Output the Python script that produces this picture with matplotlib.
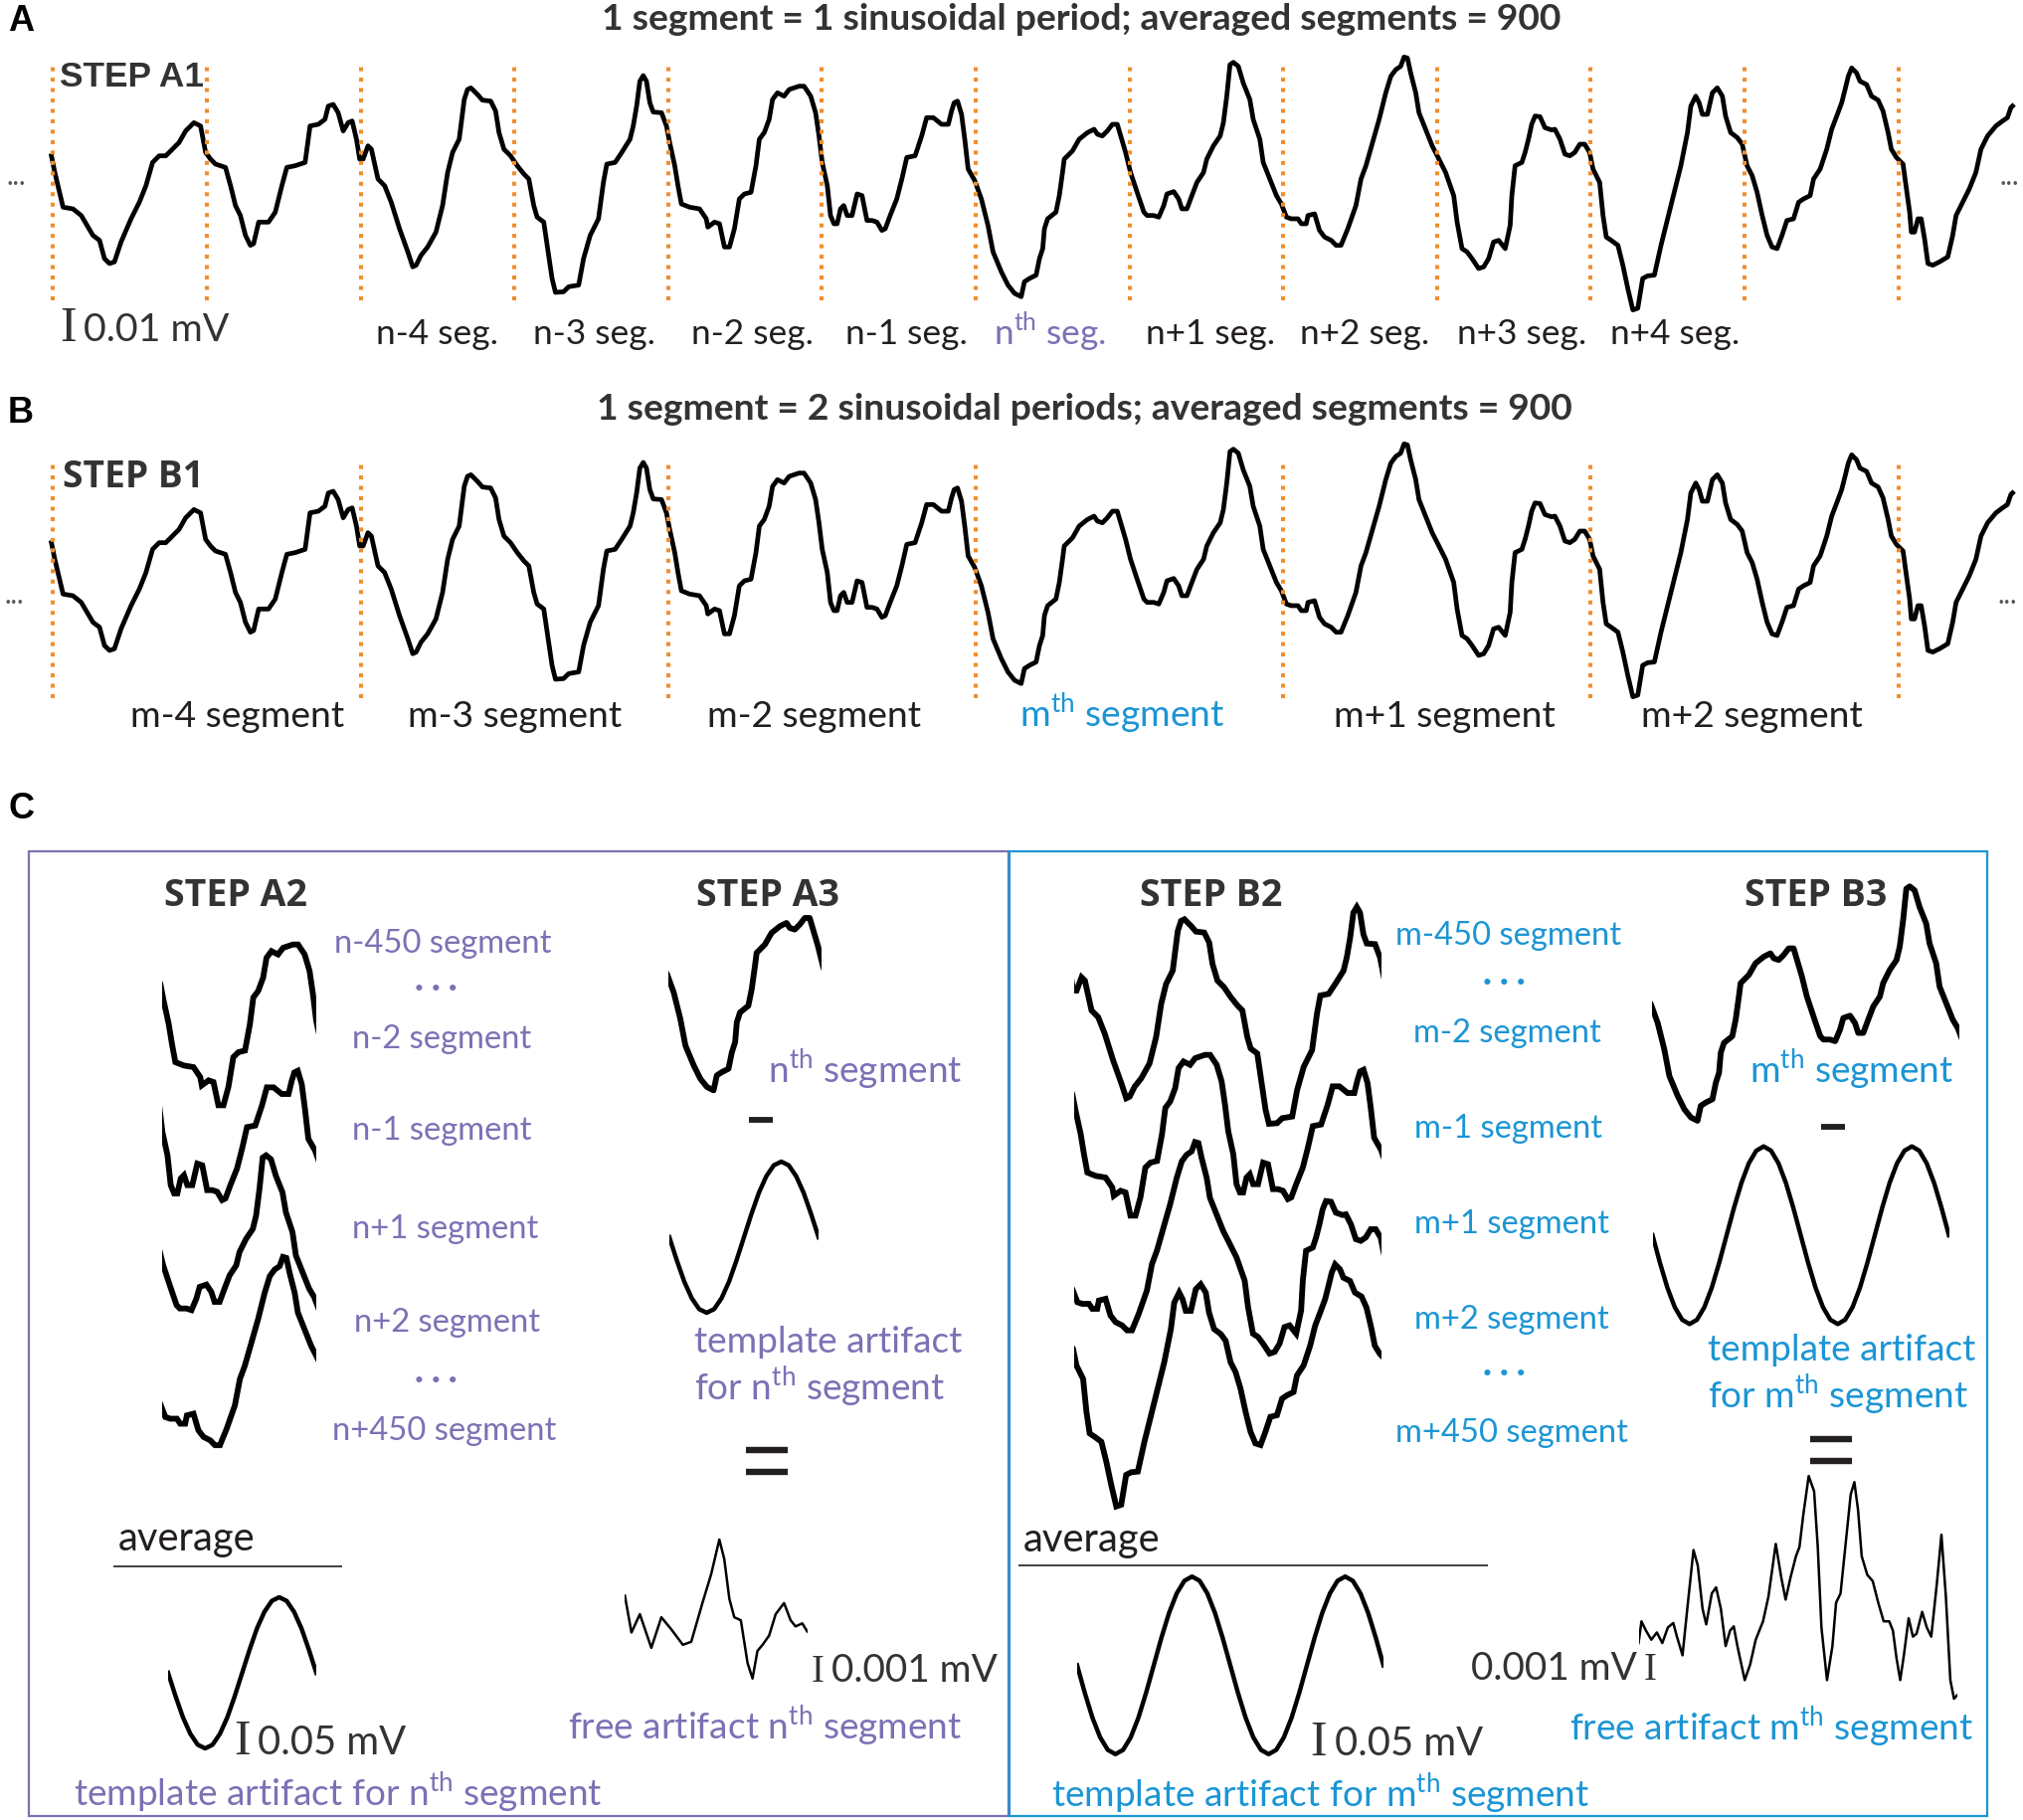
import matplotlib
matplotlib.use("Agg")
import matplotlib.pyplot as plt
import numpy as np
from matplotlib.lines import Line2D
from matplotlib.patches import Rectangle

# ---------------------------------------------------------------- data
# Recorded signal read from the figure: time in ms (1 sinusoidal period = 100 ms),
# amplitude in arbitrary units.
trace_t_1 = [-1.1, 1.1, 6.5, 12.9, 18.3, 25.9, 30.2, 33.4, 36.7, 39.9, 44.2, 50.7, 56.1, 60.4, 64.7,
             69.0, 73.3, 77.6, 81.9, 86.2, 91.6, 95.9, 99.2, 102.4, 105.6, 112.1, 115.4, 118.6, 121.8,
             125.1, 128.3, 130.4, 133.7, 140.1, 144.5, 148.8, 152.0, 157.4, 163.9, 167.1, 172.5, 176.8,
             179.0, 182.2, 185.4, 188.7, 191.9, 194.5, 197.3, 199.4, 201.6, 204.8, 207.0, 211.3, 215.6,
             219.9, 225.3, 230.7, 233.9, 236.1, 239.3, 243.6, 249.0, 253.3, 256.6, 259.8, 264.1, 267.4,
             269.5, 271.7, 276.0, 279.2, 284.6, 287.8, 290.0, 293.2, 297.5, 301.9, 306.2, 309.4, 312.6,
             314.8, 319.1, 321.3]
trace_a_1 = [7.0, 2.0, -8.5, -9.0, -11.0, -17.0, -18.5, -24.0, -25.5, -25.0, -19.0, -12.0, -7.0, -2.0, 5.0,
             7.0, 7.0, 9.0, 11.0, 14.5, 17.0, 16.0, 8.0, 6.0, 4.5, 3.5, -2.0, -8.0, -11.0,
             -17.0, -20.0, -19.5, -13.0, -13.0, -10.0, -2.0, 3.5, 4.0, 5.0, 16.0, 16.5, 18.0,
             22.0, 22.5, 20.0, 14.5, 17.0, 17.5, 12.0, 6.0, 6.0, 10.0, 9.0, 0.0, -2.0,
             -7.0, -15.0, -22.0, -26.5, -26.0, -23.0, -20.5, -16.0, -8.0, 2.0, 8.0, 12.0, 24.0,
             27.0, 27.5, 25.5, 23.8, 23.5, 20.5, 14.0, 9.0, 7.0, 4.0, 1.5, 0.0, -8.0,
             -11.5, -13.0, -20.0]
trace_t_2 = [324.5, 326.7, 332.0, 335.3, 341.8, 345.0, 349.3, 354.7, 357.9, 360.1, 365.5, 369.8, 375.2,
             377.3, 379.5, 381.6, 383.8, 385.9, 388.1, 390.3, 395.7, 398.9, 401.0, 404.3, 406.4, 408.6,
             414.0, 420.4, 424.8, 425.8, 430.2, 433.4, 436.6, 439.9, 443.1, 446.3, 449.6, 453.9, 457.1,
             459.3, 462.5, 465.7, 467.9, 471.1, 475.4, 478.7, 485.1, 488.4, 492.7, 495.9, 498.1, 500.2,
             503.5, 505.6, 507.8, 509.9, 512.1, 514.2, 516.4, 519.6, 522.9, 526.1, 529.3, 532.6, 535.8,
             539.0, 541.2, 544.4, 548.7, 552.0, 555.2, 560.6, 564.9, 568.1, 572.5, 577.8, 582.2, 584.3,
             586.0, 588.2, 590.8, 592.9, 595.1, 599.4, 603.7, 608.0, 611.3, 616.7, 621.0, 625.3, 629.6,
             631.7, 635.0, 639.3, 641.5, 643.6, 644.7]
trace_a_2 = [-30.0, -34.2, -34.0, -32.5, -32.0, -24.0, -17.0, -12.0, -1.0, 4.5, 5.0, 8.0, 12.0,
             16.0, 22.0, 29.5, 31.2, 29.5, 23.0, 20.2, 20.0, 16.0, 11.0, 4.0, -2.0, -7.5,
             -8.5, -9.0, -12.0, -14.5, -13.0, -13.5, -20.5, -20.5, -15.0, -6.0, -4.5, -4.0, 4.0,
             12.0, 14.0, 18.0, 24.0, 26.0, 25.0, 27.0, 28.0, 28.0, 25.0, 20.0, 13.0, 5.0,
             -2.0, -11.0, -13.5, -13.5, -9.0, -8.0, -11.0, -11.0, -4.5, -5.0, -12.5, -12.5, -13.0,
             -15.5, -15.0, -11.0, -6.0, 0.0, 6.5, 7.0, 13.0, 18.5, 18.5, 16.5, 16.5, 20.5,
             23.0, 23.5, 19.5, 12.0, 3.0, -0.5, -6.0, -14.0, -22.0, -28.0, -32.0, -34.5, -35.5,
             -31.0, -30.0, -29.0, -24.0, -21.0, -15.0]
trace_t_3 = [646.8, 652.2, 654.4, 656.5, 657.6, 663.0, 667.3, 672.7, 677.0, 679.2, 682.4, 685.6, 688.9,
             692.1, 694.3, 697.5, 700.7, 705.0, 709.4, 711.5, 715.8, 719.1, 722.3, 724.4, 728.8, 732.0,
             734.1, 737.4, 740.6, 743.9, 748.2, 750.3, 754.6, 759.0, 761.1, 763.3, 765.4, 767.6, 770.8,
             774.0, 778.3, 780.5, 784.8, 787.0, 791.3, 795.6, 798.8, 802.1, 805.3, 809.6, 811.8, 815.0,
             816.1, 820.4, 823.6, 826.9, 831.2, 834.4, 837.6, 842.0, 847.3, 850.6, 853.8, 858.1, 862.4,
             866.7, 870.0, 873.2, 876.4, 878.6, 880.8, 882.9, 886.2, 888.3, 892.6, 896.9, 900.2, 905.6,
             910.9, 913.1, 916.3, 919.6, 922.8, 927.1, 930.4, 933.6, 936.8, 940.1, 944.4, 947.6, 948.7,
             950.8, 955.2, 957.3, 959.5, 961.6, 963.8, 967.0, 970.2, 974.5]
trace_a_3 = [-12.0, -10.0, -5.0, 2.0, 6.0, 8.5, 12.0, 14.0, 15.0, 13.5, 13.0, 14.5, 16.5,
             16.5, 13.0, 8.0, 2.0, -4.0, -10.0, -11.0, -11.0, -11.5, -8.0, -4.5, -3.8, -6.0,
             -9.0, -9.0, -5.0, -1.0, 2.0, 6.0, 10.0, 13.0, 17.0, 25.0, 34.5, 35.2, 34.0,
             29.0, 24.0, 18.0, 12.0, 5.0, 0.0, -5.0, -7.5, -11.5, -12.0, -12.0, -13.5, -13.5,
             -11.0, -10.5, -15.5, -17.5, -18.5, -20.0, -20.0, -15.0, -8.0, 0.0, 4.0, 11.0, 18.0,
             26.0, 31.0, 33.0, 34.0, 36.8, 36.5, 32.0, 26.0, 20.0, 15.0, 10.0, 7.0, 2.0,
             -5.0, -13.0, -21.0, -22.0, -24.0, -27.0, -26.5, -24.0, -19.0, -18.5, -21.0, -14.0, -5.0,
             4.0, 5.0, 8.0, 12.0, 16.5, 19.0, 18.8, 15.5, 14.8]
trace_t_4 = [976.7, 980.0, 983.2, 986.4, 989.6, 992.9, 996.1, 999.3, 1001.5, 1005.8, 1008.0, 1010.1,
             1013.3, 1017.7, 1020.9, 1024.1, 1027.4, 1030.6, 1033.8, 1037.1, 1041.4, 1045.7, 1050.0,
             1054.3, 1058.6, 1062.9, 1065.1, 1068.3, 1070.5, 1072.6, 1075.9, 1079.1, 1082.3, 1085.6,
             1087.7, 1091.0, 1095.3, 1098.5, 1101.7, 1105.0, 1108.2, 1111.5, 1114.7, 1117.9, 1121.2,
             1124.4, 1127.6, 1131.9, 1135.2, 1138.4, 1142.7, 1144.9, 1149.2, 1153.5, 1156.7, 1160.0,
             1163.2, 1165.4, 1167.5, 1169.7, 1172.9, 1175.1, 1179.4, 1182.6, 1186.9, 1190.1, 1193.4,
             1195.5, 1198.8, 1203.1, 1205.2, 1207.4, 1208.5, 1210.6, 1212.8, 1214.9, 1217.1, 1219.3,
             1222.5, 1226.8, 1232.2, 1235.4, 1237.6, 1241.9, 1246.2, 1250.5, 1253.8, 1258.1, 1263.5,
             1267.8, 1271.0, 1273.2, 1274.3]
trace_a_4 = [15.0, 12.0, 7.5, 7.0, 8.0, 10.5, 10.5, 8.0, 3.0, -1.0, -11.0, -17.5,
             -18.5, -20.0, -26.0, -33.0, -39.5, -39.0, -30.0, -29.2, -29.0, -20.0, -12.0,
             -4.0, 4.0, 14.0, 22.0, 25.0, 23.0, 19.5, 19.5, 26.0, 27.5, 25.0,
             19.0, 14.0, 12.5, 10.5, 4.0, 1.0, -4.0, -11.0, -17.0, -20.5, -21.0,
             -17.0, -12.5, -12.0, -7.0, -6.0, -5.0, 0.0, 3.0, 9.0, 15.0, 19.0,
             23.0, 27.0, 31.0, 33.5, 32.0, 29.5, 28.5, 25.0, 23.8, 20.5, 14.0,
             9.0, 6.5, 4.5, -2.5, -10.0, -16.0, -16.0, -12.0, -12.0, -18.0, -25.5,
             -26.0, -25.0, -23.5, -17.0, -11.0, -7.0, -3.0, 2.0, 9.0, 13.0, 16.0,
             17.5, 18.5, 21.5, 22.0]

seg_bounds_A = [0, 100, 200, 300, 400, 500, 600, 700, 800, 900, 1000, 1100, 1200]
seg_bounds_B = [0, 200, 400, 600, 800, 1000, 1200]
labels_A = ["n-4 seg.", "n-3 seg.", "n-2 seg.", "n-1 seg.", "n$^\\mathregular{th}$ seg.",
            "n+1 seg.", "n+2 seg.", "n+3 seg.", "n+4 seg."]
label_t_A = [250, 352, 455, 555, 648, 753, 853, 955, 1055]
labels_B = ["m-4 segment", "m-3 segment", "m-2 segment", "m$^\\mathregular{th}$ segment",
            "m+1 segment", "m+2 segment"]
label_t_B = [120, 300, 495, 695, 905, 1105]

# segments used in panel C (start, end in ms)
segs_A2 = [(400, 500), (500, 600), (700, 800), (800, 900)]
labels_A2 = ["n-450 segment", "· · ·", "n-2 segment", "n-1 segment", "n+1 segment",
             "n+2 segment", "· · ·", "n+450 segment"]
seg_A3 = (600, 700)
segs_B2 = [(200, 400), (400, 600), (800, 1000), (1000, 1200)]
labels_B2 = ["m-450 segment", "· · ·", "m-2 segment", "m-1 segment", "m+1 segment",
             "m+2 segment", "· · ·", "m+450 segment"]
seg_B3 = (600, 800)

# averaged template artifacts (a.u.)
templ_A_t = [0, 5, 10, 15, 20, 25, 30, 35, 40, 45, 50, 55, 60, 65, 70, 75, 80, 85, 90, 95, 100]
templ_A = [0.0, -7.0, -13.4, -18.4, -21.7, -22.8, -21.7, -18.4, -13.4, -7.0, 0.0,
           7.0, 13.4, 18.4, 21.7, 22.8, 21.7, 18.4, 13.4, 7.0, 0.0]
templ_B_t = [0, 5, 10, 15, 20, 25, 30, 35, 40, 45, 50, 55, 60, 65, 70, 75, 80, 85, 90, 95, 100,
             105, 110, 115, 120, 125, 130, 135, 140, 145, 150, 155, 160, 165, 170, 175, 180, 185,
             190, 195, 200]
templ_B = [0.0, -8.3, -15.8, -21.7, -25.5, -26.8, -25.5, -21.7, -15.8, -8.3, 0.0,
           8.3, 15.8, 21.7, 25.5, 26.8, 25.5, 21.7, 15.8, 8.3, 0.0,
           -8.3, -15.8, -21.7, -25.5, -26.8, -25.5, -21.7, -15.8, -8.3, 0.0,
           8.3, 15.8, 21.7, 25.5, 26.8, 25.5, 21.7, 15.8, 8.3, 0.0]

# artifact-free segments (uV)
free_A_t = [0, 3.6, 8.2, 14.5, 20.0, 25.5, 31.8, 36.4, 42.7, 47.3, 51.8, 54.5, 57.3, 60.0, 63.6,
            67.3, 70.0, 72.7, 75.5, 79.1, 82.7, 87.3, 90.9, 93.6, 97.3, 100]
free_A = [0.88, -0.44, 0.22, -0.99, 0.11, -0.33, -0.88, -0.77, 0.66, 1.65, 2.90, 2.20, 0.77, 0.11, 0.0,
          -1.54, -2.09, -1.10, -0.88, -0.55, 0.22, 0.62, 0.0, -0.22, -0.11, -0.40]
free_B_t = [0, 1.8, 4.6, 8.0, 11.5, 14.9, 18.4, 21.8, 24.1, 27.6, 31.0, 34.5, 37.2, 40.2, 42.5,
            46.0, 48.7, 51.7, 54.7, 57.5, 59.8, 62.1, 66.7, 70.1, 73.6, 78.2, 81.6, 86.2, 89.7, 92.4,
            95.4, 98.9, 101.1, 103.4, 106.9, 110.3, 112.6, 114.9, 118.4, 121.8, 124.1, 126.9, 129.9,
            133.3, 135.6, 137.9, 140.2, 143.7, 147.1, 150.6, 154.0, 157.5, 159.8, 162.1, 164.4, 166.7,
            169.7, 172.4, 174.7, 178.2, 181.1, 183.9, 187.4, 190.3, 193.1, 195.9, 198.2, 200.0]
free_B = [-0.56, 0.22, -0.11, -0.44, -0.18, -0.56, 0.0, 0.16, -0.33, -1.0, 0.89, 2.78, 2.22, 0.67, 0.11,
          1.22, 1.44, 0.67, -0.67, -0.11, 0.04, -0.67, -1.89, -1.33, -0.44, 0.22, 1.11, 3.0, 1.78, 1.0,
          1.78, 2.56, 2.89, 4.0, 5.44, 4.89, 2.89, 0.0, -1.89, -0.67, 0.89, 1.22, 2.89,
          4.78, 5.22, 4.22, 2.56, 1.89, 1.67, 0.89, 0.22, 0.22, -0.11, -1.11, -1.89, -1.0,
          0.33, -0.33, -0.22, 0.56, 0.0, -0.33, 1.56, 3.33, 1.11, -1.89, -2.56, -2.44]

trace_t = np.array(trace_t_1 + trace_t_2 + trace_t_3 + trace_t_4)
trace_a = np.array(trace_a_1 + trace_a_2 + trace_a_3 + trace_a_4)

# ---------------------------------------------------------------- style
DARK = "#231f20"
PURPLE = "#7a72b5"
BLUE = "#1c95d4"
ORANGE = "#f18d2b"
W, H = 2034, 1830

fig = plt.figure(figsize=(W / 100, H / 100), dpi=100)
fig.patch.set_facecolor("white")
R = fig.canvas.get_renderer()


def fy(y):
    return 1 - y / H


def fit_size(s, width, family, weight="normal"):
    t = fig.text(0, 0, s, fontsize=20, family=family, weight=weight)
    w = t.get_window_extent(R).width
    t.remove()
    return 20 * width / w


def txt(x, y, s, size, family="Lato", weight="normal", color=DARK, ha="center", va="baseline"):
    return fig.text(x / W, fy(y), s, fontsize=size, family=family, weight=weight,
                    color=color, ha=ha, va=va)


def trace_ax(left, zero, t0, t1, sx, sy, a_lo=-60, a_hi=60):
    x1 = left + (t1 - t0) * sx
    top = zero - a_hi * sy
    bot = zero - a_lo * sy
    ax = fig.add_axes([left / W, fy(bot), (x1 - left) / W, (bot - top) / H])
    ax.set_xlim(t0, t1)
    ax.set_ylim(a_lo, a_hi)
    ax.axis("off")
    ax.patch.set_visible(False)
    return ax


def hline(x0, x1, y, lw, color=DARK):
    fig.add_artist(Line2D([x0 / W, x1 / W], [fy(y), fy(y)], lw=lw, color=color,
                          transform=fig.transFigure, solid_capstyle="butt"))


SX, SY = 1.546, 3.333

# ---------------------------------------------------------------- panel A / B traces
for zero, bounds, lo, hi in [(180, seg_bounds_A, -36.5, 35.5), (569, seg_bounds_B, -39.8, 32.2)]:
    ax = trace_ax(7, zero, -30, 1285, SX, SY, -55, 45)
    ax.plot(trace_t, trace_a, color="black", lw=3.4, solid_joinstyle="round", clip_on=False)
    ax.vlines(bounds, lo, hi, colors=ORANGE, linestyles=(0, (1.0, 1.6)), lw=2.9, zorder=3)

axA = fig.axes[0]
axB = fig.axes[1]

s_lab = fit_size("n-4 seg.", 123, "Lato")
for s, t in zip(labels_A, label_t_A):
    axA.text(t, (180 - 346) / SY, s, fontsize=s_lab, family="Lato", ha="center", va="baseline",
             color=PURPLE if "th" in s else DARK)
s_labB = fit_size("m-4 segment", 216, "Lato")
for s, t in zip(labels_B, label_t_B):
    axB.text(t, (569 - 731) / SY, s, fontsize=s_labB, family="Lato", ha="center", va="baseline",
             color=BLUE if "th" in s else DARK)

# titles and panel letters
s_title = fit_size("1 segment = 1 sinusoidal period; averaged segments = 900", 966, "Lato", "bold")
txt(1087, 29.5, "1 segment = 1 sinusoidal period; averaged segments = 900", s_title, weight="bold", color="#333333")
txt(1090, 422, "1 segment = 2 sinusoidal periods; averaged segments = 900", s_title, weight="bold", color="#333333")
for letter, y in [("A", 31), ("B", 425), ("C", 823)]:
    txt(8, y, letter, 26, family="Liberation Sans", weight="bold", color="black", ha="left")

txt(60, 86.7, "STEP A1", fit_size("STEP A1", 145, "Liberation Sans", "bold"),
    family="Liberation Sans", weight="bold", color="#333333", ha="left")
txt(63, 490, "STEP B1", fit_size("STEP B1", 142, "Open Sans", "bold"),
    family="Open Sans", weight="bold", color="#333333", ha="left")

# scale bar A and ellipses
txt(69, 343, "I", 36, family="Liberation Serif", color="#333333")
txt(84, 343, "0.01 mV", fit_size("0.01 mV", 147, "Lato"), ha="left", color="#333333")
for x, y in [(16, 178), (2020, 178), (14, 599), (2018, 599)]:
    txt(x, y, "...", 20, color="#555555", va="center")

# ---------------------------------------------------------------- panel C
fig.add_artist(Rectangle((28.5 / W, fy(1826)), (1014 - 28.5) / W, (1826 - 856) / H, fill=False,
                         ec=PURPLE, lw=1.6, transform=fig.transFigure))
fig.add_artist(Rectangle((1015 / W, fy(1826)), (1997.5 - 1015) / W, (1826 - 856) / H, fill=False,
                         ec=BLUE, lw=1.6, transform=fig.transFigure))

s_step = fit_size("STEP A2", 144, "Open Sans", "bold")
for x, s in [(237, "STEP A2"), (772, "STEP A3"), (1218, "STEP B2"), (1826, "STEP B3")]:
    txt(x, 911, s, s_step, family="Open Sans", weight="bold", color="#333333")

# STEP A2 / B2 stacked segments
for (t0, t1), zero in zip(segs_A2, [1043, 1155, 1279, 1386.5]):
    ax = trace_ax(163, zero, t0, t1, SX, SY)
    ax.plot(trace_t, trace_a, color="black", lw=4.2, solid_joinstyle="miter")
for (t0, t1), zero in zip(segs_B2, [1016, 1154, 1271, 1383]):
    ax = trace_ax(1080, zero, t0, t1, SX, SY)
    ax.plot(trace_t, trace_a, color="black", lw=4.2, solid_joinstyle="miter")

CF = "Lato"
s_c = fit_size("n-450 segment", 219, CF)
for s, x, y in zip(labels_A2, [445, 438, 444, 444, 448, 450, 438, 447],
                   [958, 1003, 1054, 1146.5, 1244.6, 1339, 1397, 1448.5]):
    txt(x, y, s, s_c, family=CF, color=PURPLE, weight="bold" if "·" in s else "normal")
for s, x, y in zip(labels_B2, [1517, 1512, 1515, 1517, 1520, 1520, 1512, 1520],
                   [949.5, 997, 1047.8, 1143.8, 1240, 1336, 1390, 1449.5]):
    txt(x, y, s, s_c, family=CF, color=BLUE, weight="bold" if "·" in s else "normal")

# averages
s_avg = fit_size("average", 138, "Lato")
txt(119, 1559, "average", s_avg, ha="left")
txt(1029, 1560, "average", s_avg, ha="left")
hline(114, 344, 1575, 1.2)
hline(1023.5, 1496, 1573.5, 1.2)

ax = trace_ax(169, 1682, 0, 100, 1.49, SY)
ax.plot(templ_A_t, templ_A, color="black", lw=3.2)
ax = trace_ax(1083, 1674.5, 0, 200, 1.54, SY)
ax.plot(templ_B_t, templ_B, color="black", lw=3.2)

s_bar = fit_size("0.05 mV", 149, "Lato")
txt(244, 1764, "I", 36, family="Liberation Serif", color="#333333")
txt(259, 1764, "0.05 mV", s_bar, ha="left", color="#333333")
txt(1326, 1765, "I", 36, family="Liberation Serif", color="#333333")
txt(1342, 1765, "0.05 mV", s_bar, ha="left", color="#333333")

s_c2 = fit_size("template artifact for n$^\\mathregular{th}$ segment", 532, CF)
txt(340, 1816, "template artifact for n$^\\mathregular{th}$ segment", s_c2, family=CF, color=PURPLE)
txt(1328, 1817, "template artifact for m$^\\mathregular{th}$ segment", s_c2, family=CF, color=BLUE)

# STEP A3 / B3
ax = trace_ax(671.7, 978, seg_A3[0], seg_A3[1], SX, SY)
ax.plot(trace_t, trace_a, color="black", lw=4.2)
ax = trace_ax(1661, 1008.6, seg_B3[0], seg_B3[1], SX, SY)
ax.plot(trace_t, trace_a, color="black", lw=4.2)

txt(870, 1089, "n$^\\mathregular{th}$ segment", s_c2, family=CF, color=PURPLE)
txt(1862, 1088.6, "m$^\\mathregular{th}$ segment", s_c2, family=CF, color=BLUE)

hline(753, 777, 1126, 4.2)
hline(1831, 1855, 1133, 4.2)

ax = trace_ax(673, 1244, 0, 100, 1.5, SY)
ax.plot(templ_A_t, templ_A, color="black", lw=3.2)
ax = trace_ax(1661.5, 1242, 0, 200, 1.49, SY)
ax.plot(templ_B_t, templ_B, color="black", lw=3.2)

txt(698, 1360, "template artifact", s_c2, family=CF, color=PURPLE, ha="left")
txt(698, 1408, "for n$^\\mathregular{th}$ segment", s_c2, family=CF, color=PURPLE, ha="left")
txt(1717, 1368, "template artifact", s_c2, family=CF, color=BLUE, ha="left")
txt(1717, 1416, "for m$^\\mathregular{th}$ segment", s_c2, family=CF, color=BLUE, ha="left")

for y in (1458, 1480):
    hline(750, 792, y, 4.6)
for y in (1447, 1469):
    hline(1820, 1862, y, 4.6)

ax = trace_ax(628.3, 1629.2, 0, 100, 1.833, 28, -5, 5)
ax.plot(free_A_t, free_A, color="black", lw=1.8)
ax = trace_ax(1647.5, 1636.4, 0, 200, 1.6, 28, -5, 6)
ax.plot(free_B_t, free_B, color="black", lw=1.8)

s_bar2 = fit_size("0.001 mV", 167, "Lato")
txt(822, 1691, "I", 28, family="Liberation Serif", color="#333333")
txt(836, 1691, "0.001 mV", s_bar2, ha="left", color="#333333")
txt(1646, 1689, "0.001 mV", s_bar2, ha="right", color="#333333")
txt(1659, 1689, "I", 28, family="Liberation Serif", color="#333333")

txt(769.5, 1749, "free artifact n$^\\mathregular{th}$ segment", s_c2, family=CF, color=PURPLE)
txt(1781, 1749.5, "free artifact m$^\\mathregular{th}$ segment", s_c2, family=CF, color=BLUE)

fig.savefig("out.png", dpi=100, facecolor="white")
